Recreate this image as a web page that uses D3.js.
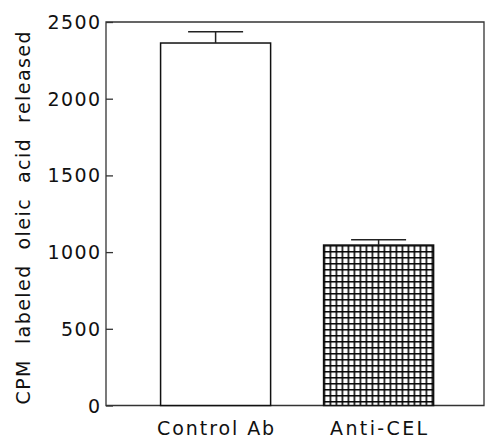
<!DOCTYPE html>
<html>
<head>
<meta charset="utf-8">
<script src="https://cdn.jsdelivr.net/npm/d3@7"></script>
<style>
  body { margin: 0; background: #fff; }
  text { font-family: "DejaVu Sans", sans-serif; fill: #111; }
</style>
</head>
<body>
<svg id="chart" width="488" height="439"></svg>
<script>
// data
const categories = ["Control Ab", "Anti-CEL"]
const values = [2363, 1046]
const errors = [74, 34]
const yTicks = [0, 500, 1000, 1500, 2000, 2500]
const yLabel = "CPM  labeled  oleic  acid  released"

const mLeft = 106, mRight = 484, mTop = 22, mBottom = 405.5

const svg = d3.select("#chart")

const y = d3.scaleLinear().domain([0, 2500]).range([mBottom, mTop])
const x = d3.scaleBand().domain(categories).range([mLeft, mRight])
  .paddingInner(0.325).paddingOuter(0.322).align(0.52)

// grid pattern for the second bar
const defs = svg.append("defs")
const pat = defs.append("pattern")
  .attr("id", "grid")
  .attr("patternUnits", "userSpaceOnUse")
  .attr("x", x(categories[1]))
  .attr("y", y(values[1]))
  .attr("width", 6)
  .attr("height", 6)
pat.append("rect").attr("width", 6).attr("height", 6).attr("fill", "#fff")
pat.append("path").attr("d", "M0.75,0V6M0,0.75H6").attr("stroke", "#000").attr("stroke-width", 1.6)

//-------- frame
svg.append("path")
  .attr("d", `M${mLeft},${mTop}H${mRight}V${mBottom}H${mLeft}Z`)
  .attr("fill", "none").attr("stroke", "#333").attr("stroke-width", 1.3)

//-------- y axis (ticks point inward)
const yAxis = d3.axisRight(y).tickValues(yTicks).tickSize(7).tickFormat("")
const ga = svg.append("g").attr("transform", `translate(${mLeft},0)`).call(yAxis)
ga.select(".domain").remove()
ga.selectAll("line").attr("stroke", "#333").attr("stroke-width", 1.3)

svg.selectAll(".ylab").data(yTicks).join("text")
  .attr("class", "ylab")
  .attr("x", 100)
  .attr("y", d => y(d) + 7)
  .attr("text-anchor", "end")
  .attr("font-size", 19)
  .attr("textLength", d => String(d).length * 13.5 - 1.5)
  .attr("lengthAdjust", "spacing")
  .text(d => d)

//-------- bars
svg.selectAll(".bar").data(categories).join("rect")
  .attr("class", "bar")
  .attr("x", d => x(d))
  .attr("y", (d, i) => y(values[i]))
  .attr("width", x.bandwidth())
  .attr("height", (d, i) => y(0) - y(values[i]))
  .attr("fill", (d, i) => i == 1 ? "url(#grid)" : "#fff")
  .attr("stroke", "#111")
  .attr("stroke-width", 1.5)

//-------- error bars
const capW = 55
svg.selectAll(".err").data(categories).join("path")
  .attr("class", "err")
  .attr("d", (d, i) => {
    let cx = x(d) + x.bandwidth() / 2
    let y0 = y(values[i]), y1 = y(values[i] + errors[i])
    return `M${cx},${y0}V${y1}M${cx - capW / 2},${y1}H${cx + capW / 2}`
  })
  .attr("fill", "none").attr("stroke", "#222").attr("stroke-width", 1.5)

//-------- category labels
svg.selectAll(".xlab").data(categories).join("text")
  .attr("class", "xlab")
  .attr("x", d => x(d) + x.bandwidth() / 2)
  .attr("y", 434.5)
  .attr("text-anchor", "middle")
  .attr("font-size", 19)
  .attr("textLength", (d, i) => i == 0 ? 117 : 97)
  .attr("lengthAdjust", "spacing")
  .text(d => d)

//-------- y title
svg.append("text")
  .attr("transform", "translate(30,218) rotate(-90)")
  .attr("text-anchor", "middle")
  .attr("font-size", 19)
  .attr("textLength", 373)
  .attr("lengthAdjust", "spacing")
  .style("white-space", "pre")
  .text(yLabel)
</script>
</body>
</html>
